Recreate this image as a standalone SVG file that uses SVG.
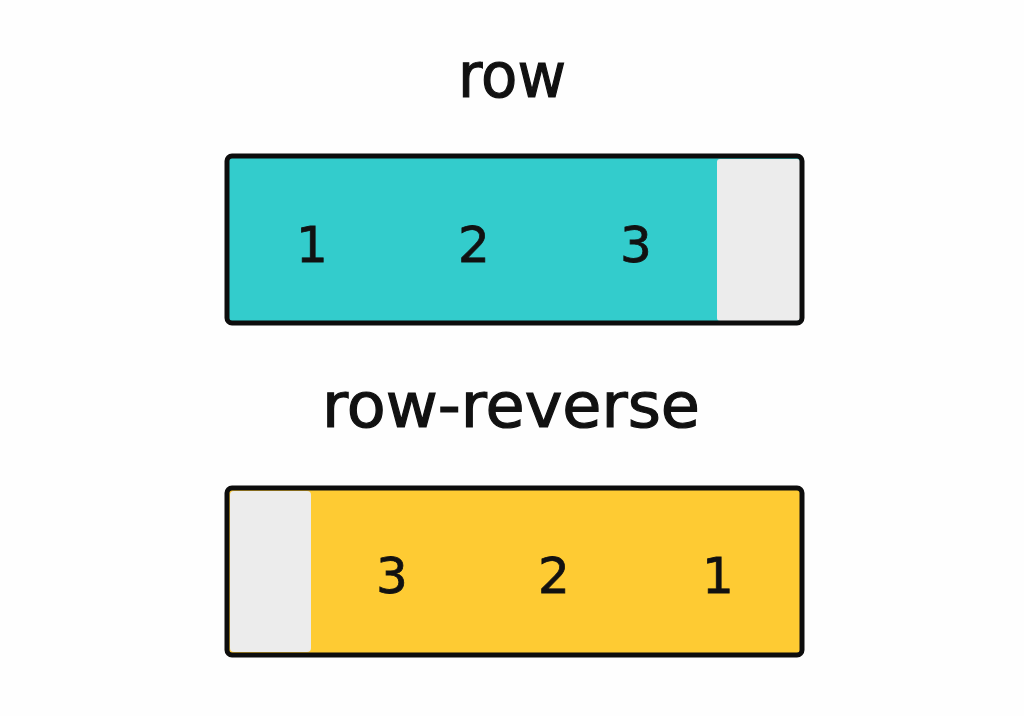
<svg xmlns="http://www.w3.org/2000/svg" width="1024" height="716" viewBox="0 0 1024 716">
<style>
.title{font-family:"DejaVu Sans","Liberation Sans",sans-serif;font-size:62px;fill:#111;stroke:#111;stroke-width:1.2;text-anchor:middle}
.num{font-family:"DejaVu Sans","Liberation Sans",sans-serif;font-size:50px;fill:#111;stroke:#111;stroke-width:0.8;text-anchor:middle}
.frame{fill:none;stroke:#0d0d0d;stroke-width:5;rx:5}
.empty{fill:#ececec}
</style>
<rect width="1024" height="716" fill="#fefefe"/>
<g id="title-row"><text class="title" x="512" y="97" textLength="108" lengthAdjust="spacingAndGlyphs">row</text></g>
<g id="box-row">
<rect x="227" y="156" width="575" height="167" fill="#33cccc"/>
<rect class="empty" x="717" y="159" width="83" height="162" rx="3"/>
<rect class="frame" x="227" y="156" width="575" height="167"/>
<text class="num" x="312" y="262">1</text>
<text class="num" x="474" y="262">2</text>
<text class="num" x="636" y="262">3</text>
</g>
<g id="title-row-reverse"><text class="title" x="511" y="427" textLength="378" lengthAdjust="spacingAndGlyphs">row-reverse</text></g>
<g id="box-row-reverse">
<rect x="227" y="488" width="575" height="167" fill="#fecb33"/>
<rect class="empty" x="230" y="491" width="81" height="161" rx="4"/>
<rect class="frame" x="227" y="488" width="575" height="167"/>
<text class="num" x="392" y="593">3</text>
<text class="num" x="554" y="593">2</text>
<text class="num" x="718" y="593">1</text>
</g>
</svg>
